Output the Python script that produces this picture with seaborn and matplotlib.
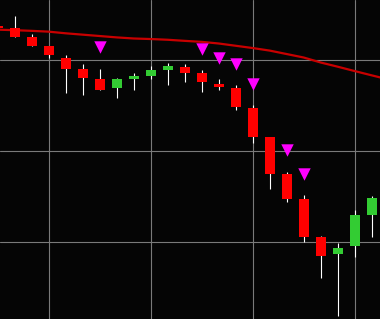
import numpy as np
import pandas as pd
import matplotlib
matplotlib.use("Agg")
import matplotlib.pyplot as plt
import seaborn as sns

# ---- data ----
idx = list(range(23))
opens  = [103.77, 103.55, 102.56, 101.57, 100.25, 99.04, 97.95, 96.99, 97.98, 98.31, 98.97, 99.26,
          98.60, 97.40, 96.96, 94.76, 91.57, 87.51, 84.76, 80.58, 78.75, 79.63, 83.03]
highs  = [103.77, 104.87, 102.89, 101.57, 100.58, 99.59, 99.04, 98.05, 98.60, 99.37, 99.70, 99.59,
          98.93, 97.95, 97.29, 95.09, 91.57, 87.73, 85.23, 80.69, 79.92, 83.55, 85.09]
lows   = [103.55, 102.59, 101.60, 100.29, 96.44, 96.22, 96.77, 95.89, 96.77, 97.98, 97.32, 97.65,
          96.55, 96.77, 94.57, 90.95, 85.89, 84.46, 80.07, 76.11, 71.93, 78.42, 80.62]
closes = [103.55, 102.59, 101.60, 100.62, 99.08, 98.09, 96.77, 97.95, 98.27, 98.93, 99.37, 98.64,
          97.65, 97.10, 94.90, 91.60, 87.54, 84.79, 80.62, 78.53, 79.37, 83.00, 84.87]

ma_idx = list(range(24))
ma_vals = [103.37, 103.31, 103.24, 103.15, 102.97, 102.82, 102.67, 102.52, 102.40, 102.34, 102.26, 102.14,
           102.03, 101.85, 101.60, 101.35, 101.07, 100.69, 100.31, 99.76, 99.30, 98.82, 98.35, 97.89]

signal_idx = [6, 12, 13, 14, 15, 17, 18]
signal_vals = [101.43, 101.27, 100.29, 99.65, 97.43, 90.09, 87.54]

grid_x = [3, 9, 15, 21]
grid_y = [80, 90, 100]

# ---- style ----
sns.set_style("dark", {"axes.facecolor": "#050505", "figure.facecolor": "#050505",
                       "grid.color": "#7a7a7a"})

fig = plt.figure(figsize=(3.8, 3.19), dpi=100)
ax = fig.add_axes([0, 0, 1, 1])
ax.set_facecolor("#050505")

RED = "#ff0000"
GREEN = "#33cc33"

df = pd.DataFrame({"i": idx, "o": opens, "h": highs, "l": lows, "c": closes})
df["up"] = df["c"] >= df["o"]

# grid
for gx in grid_x:
    ax.axvline(gx, color="#7a7a7a", lw=0.8, zorder=0)
for gy in grid_y:
    ax.axhline(gy, color="#7a7a7a", lw=0.8, zorder=0)

# moving average line
ma_df = pd.DataFrame({"i": ma_idx, "v": ma_vals})
sns.lineplot(data=ma_df, x="i", y="v", ax=ax, color="#c80000", lw=1.6, zorder=2)

# wicks
ax.vlines(df["i"], df["l"], df["h"], color="white", lw=0.8, zorder=3)
# bodies
colors = [GREEN if u else RED for u in df["up"]]
bottoms = np.minimum(df["o"], df["c"])
heights = np.abs(df["c"] - df["o"])
ax.bar(df["i"], heights, bottom=bottoms, width=0.59, color=colors, lw=0, zorder=4)

# signals
sig_df = pd.DataFrame({"i": signal_idx, "v": signal_vals})
sns.scatterplot(data=sig_df, x="i", y="v", ax=ax, marker="v", color="#ff00ff",
                s=80, linewidth=0, zorder=5)

ax.set_xlim(0.135, 22.49)
ax.set_ylim(71.57, 106.63)
ax.set_xticks([])
ax.set_yticks([])
ax.set_xlabel("")
ax.set_ylabel("")
for sp in ax.spines.values():
    sp.set_visible(False)

fig.savefig("out.png", dpi=100, facecolor="#050505")
